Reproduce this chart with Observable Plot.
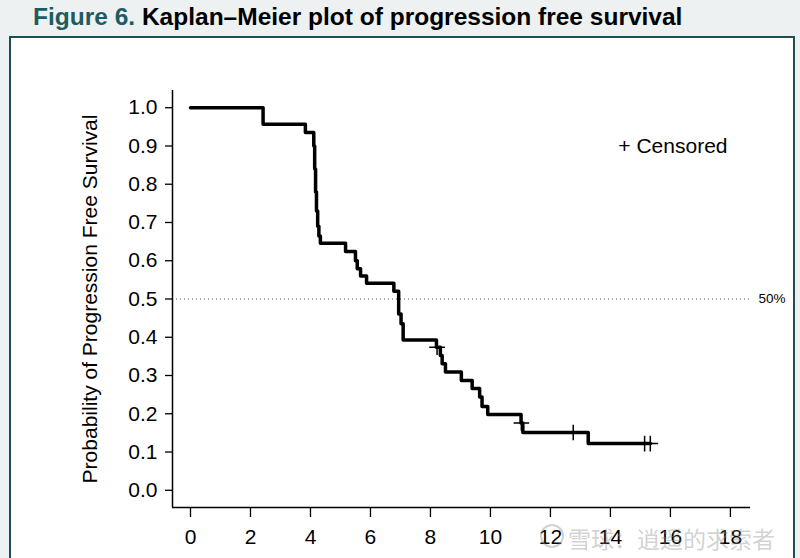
<!DOCTYPE html>
<html><head><meta charset="utf-8">
<script src="https://cdn.jsdelivr.net/npm/d3@7"></script>
<script src="https://cdn.jsdelivr.net/npm/@observablehq/plot@0.6"></script>
<style>
html,body{margin:0;padding:0;width:800px;height:558px;overflow:hidden;background:#eef1f1;font-family:"Liberation Sans",Arial,sans-serif;}
#title{position:absolute;left:33px;top:2px;font-size:24.5px;font-weight:bold;color:#000;white-space:nowrap;line-height:30px;}
#title .fig{color:#1d5c60;}
#frame{position:absolute;left:9px;top:36px;width:782px;height:540px;border:2.5px solid #1f4d50;background:#fff;}
#chart{position:absolute;left:12px;top:39px;}
#wm{position:absolute;left:568px;top:521px;font-family:"Noto Sans CJK SC",sans-serif;font-size:23px;color:rgba(140,140,140,0.4);white-space:nowrap;}
#logo{position:absolute;left:540px;top:524px;width:20px;height:20px;border:2.5px solid rgba(140,140,140,0.4);border-radius:50%;}
</style></head>
<body>
<div id="title"><span class="fig">Figure 6.</span> Kaplan–Meier plot of progression free survival</div>
<div id="frame"></div>
<div id="chart"></div>
<div id="logo"></div>
<div id="wm">雪球：逍遥的求索者</div>
<script>
// Kaplan–Meier step curve (months, survival probability)
const times = [0, 2.42, 3.83, 4.11, 4.14, 4.17, 4.20, 4.24, 4.28, 4.33, 5.17, 5.50, 5.56, 5.67, 5.87, 6.78, 6.94, 7.02, 7.09, 8.20, 8.33, 8.39, 8.50, 9.03, 9.39, 9.64, 9.72, 9.91, 11.02, 11.08, 13.26, 15.33];
const surv  = [1.0, 0.957, 0.935, 0.90, 0.84, 0.78, 0.73, 0.69, 0.665, 0.646, 0.624, 0.600, 0.579, 0.560, 0.541, 0.520, 0.461, 0.435, 0.393, 0.374, 0.352, 0.331, 0.309, 0.287, 0.266, 0.244, 0.219, 0.198, 0.176, 0.151, 0.122, 0.122];
// Censored observations
const censorTimes = [8.22, 11.03, 12.76, 15.14, 15.33];
const censorSurv  = [0.374, 0.176, 0.151, 0.122, 0.122];
// Axis ticks and labels
const yTicks = [0, 0.1, 0.2, 0.3, 0.4, 0.5, 0.6, 0.7, 0.8, 0.9, 1.0];
const xTicks = [0, 2, 4, 6, 8, 10, 12, 14, 16, 18];
const yLabel = "Probability of Progression Free Survival";
const legendLabel = "+ Censored";
const medianLabel = "50%";
const medianLevel = [0.5];

const xDomain = [-0.6, 18.67];
const yDomain = [-0.045, 1.045];

const km = times.map((t, i) => ({t, s: surv[i]}));
const cens = censorTimes.map((t, i) => ({t, s: censorSurv[i]}));

const chart = Plot.plot({
  width: 780, height: 519,
  marginLeft: 160, marginRight: 42, marginTop: 51, marginBottom: 51,
  style: {fontFamily: "Liberation Sans, Arial, sans-serif", fontSize: "21px", background: "transparent", color: "#000", overflow: "visible"},
  x: {domain: xDomain},
  y: {domain: yDomain},
  marks: [
    Plot.ruleY(medianLevel, {stroke: "#555", strokeDasharray: "1,3", strokeWidth: 1}),
    Plot.ruleX([xDomain[0]], {stroke: "#000", strokeWidth: 1.5}),
    Plot.ruleY([yDomain[0]], {stroke: "#000", strokeWidth: 1.5}),
    Plot.axisY({ticks: yTicks, tickFormat: d3.format(".1f"), tickSize: 7, tickPadding: 8, fontSize: 21, label: null, strokeWidth: 1.3}),
    Plot.axisX({ticks: xTicks, tickSize: 10, tickPadding: 12, fontSize: 21, label: null, strokeWidth: 1.3}),
    Plot.line(km, {x: "t", y: "s", curve: "step-after", stroke: "#000", strokeWidth: 3.5}),
    Plot.dot(cens, {x: "t", y: "s", symbol: "plus", r: 5.1, stroke: "#000", strokeWidth: 1.5}),
    Plot.text([yLabel], {frameAnchor: "left", dx: -82, rotate: -90, textAnchor: "middle", fontSize: 21, fill: "#000"}),
    Plot.text([legendLabel], {frameAnchor: "top-right", dx: -23, dy: 48, textAnchor: "end", fontSize: 21, fill: "#000"}),
    Plot.text(medianLevel, {frameAnchor: "right", y: d => d, text: () => medianLabel, dx: 8, textAnchor: "start", fontSize: 13.5, fill: "#000"})
  ]
});
document.getElementById("chart").appendChild(chart);
</script>
</body></html>
